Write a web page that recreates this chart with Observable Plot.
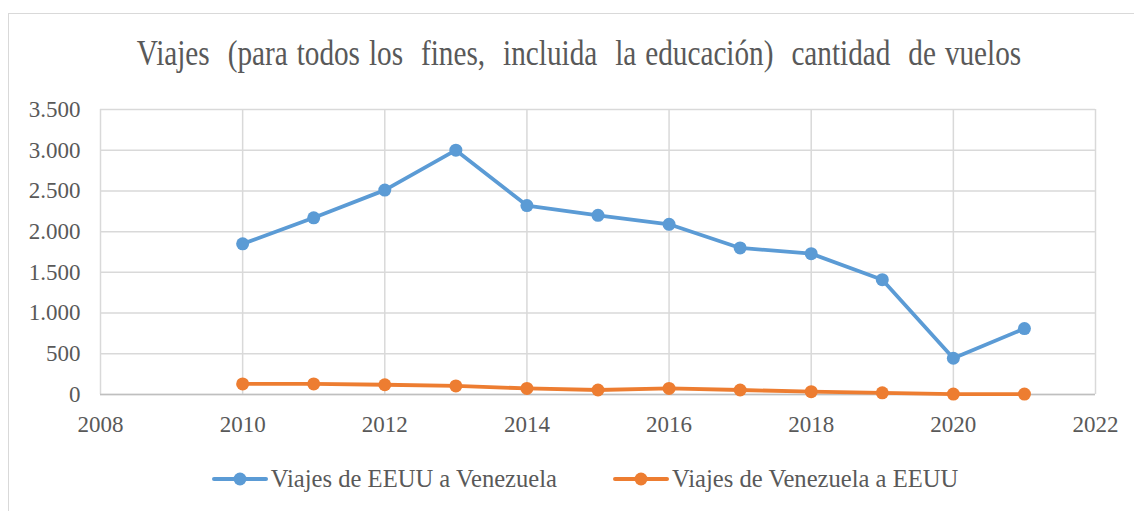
<!DOCTYPE html>
<html>
<head>
<meta charset="utf-8">
<script src="https://cdn.jsdelivr.net/npm/d3@7"></script>
<script src="https://cdn.jsdelivr.net/npm/@observablehq/plot@0.6"></script>
<style>
  body { margin: 0; background: #fff; }
  #wrap { position: relative; width: 1134px; height: 511px; overflow: hidden; font-family: "Liberation Serif", "DejaVu Serif", serif; color: #595959; }
  #frame { position: absolute; left: 8px; top: 13px; width: 1140px; height: 520px; border: 1px solid #d9d9d9; box-sizing: border-box; }
  #title { position: absolute; left: 12px; top: 31px; width: 1134px; text-align: center; font-family: "Liberation Serif", serif; font-size: 35px; line-height: 46px; word-spacing: 2px; transform: scaleX(0.835); }
  #chart { position: absolute; left: 0; top: 90px; }
  #chart svg text { font-family: "Liberation Serif", serif; }
  #legend { position: absolute; top: 465px; left: 18px; width: 1134px; display: flex; justify-content: center; gap: 56px; font-family: "Liberation Serif", serif; font-size: 24.6px; }
  .item { display: flex; align-items: center; gap: 3px; }
</style>
</head>
<body>
<div id="wrap">
  <div id="frame"></div>
  <div id="title">Viajes&nbsp; (para todos los&nbsp; fines,&nbsp; incluida&nbsp; la educación)&nbsp; cantidad&nbsp; de vuelos</div>
  <div id="chart"></div>
  <div id="legend"></div>
</div>
<script>
const years = [2010, 2011, 2012, 2013, 2014, 2015, 2016, 2017, 2018, 2019, 2020, 2021];
const eeuuAVenezuela = [1850, 2170, 2510, 3000, 2320, 2200, 2090, 1800, 1730, 1410, 445, 810];
const venezuelaAEeuu = [130, 130, 120, 105, 75, 55, 75, 55, 35, 20, 5, 5];
const seriesNames = ["Viajes de EEUU a Venezuela", "Viajes de Venezuela a EEUU"];
const seriesColors = ["#5b9bd5", "#ed7d31"];
const xTicks = [2008, 2010, 2012, 2014, 2016, 2018, 2020, 2022];
const yTicks = [0, 500, 1000, 1500, 2000, 2500, 3000, 3500];

const data = [];
years.forEach((y, i) => {
  data.push({year: y, value: eeuuAVenezuela[i], series: seriesNames[0]});
  data.push({year: y, value: venezuelaAEeuu[i], series: seriesNames[1]});
});
const fmt = d => d3.format(",")(d).replace(/,/g, ".");

const chart = Plot.plot({
  width: 1134,
  height: 360,
  marginLeft: 100,
  marginRight: 39,
  marginTop: 19,
  marginBottom: 56,
  style: {fontFamily: "Liberation Serif, serif", fontSize: "23px", color: "#595959", background: "transparent"},
  x: {domain: [2008, 2022], ticks: xTicks, tickFormat: d => String(d), tickSize: 0, tickPadding: 21, label: null},
  y: {domain: [0, 3500], ticks: yTicks, tickFormat: fmt, tickSize: 0, tickPadding: 20, label: null},
  color: {domain: seriesNames, range: seriesColors},
  marks: [
    Plot.gridX(xTicks, {stroke: "#d9d9d9", strokeOpacity: 1, strokeWidth: 1.5}),
    Plot.gridY(yTicks, {stroke: "#d9d9d9", strokeOpacity: 1, strokeWidth: 1.5}),
    Plot.ruleY([0], {stroke: "#bfbfbf", strokeWidth: 1.5}),
    Plot.line(data, {x: "year", y: "value", stroke: "series", strokeWidth: 3.8, z: "series"}),
    Plot.dot(data, {x: "year", y: "value", fill: "series", r: 6.5}),
    Plot.axisX({ticks: xTicks, tickFormat: d => String(d), tickSize: 0, tickPadding: 21, fill: "#595959", fontSize: 23}),
    Plot.axisY({ticks: yTicks, tickFormat: fmt, tickSize: 0, tickPadding: 20, fill: "#595959", fontSize: 23})
  ]
});
document.getElementById("chart").appendChild(chart);

const legend = document.getElementById("legend");
seriesNames.forEach((name, i) => {
  const item = document.createElement("div");
  item.className = "item";
  item.innerHTML = `<svg width="56" height="14"><line x1="2" y1="7" x2="54" y2="7" stroke="${seriesColors[i]}" stroke-width="4" stroke-linecap="round"/><circle cx="28" cy="7" r="6.5" fill="${seriesColors[i]}"/></svg><span>${name}</span>`;
  legend.appendChild(item);
});
</script>
</body>
</html>
